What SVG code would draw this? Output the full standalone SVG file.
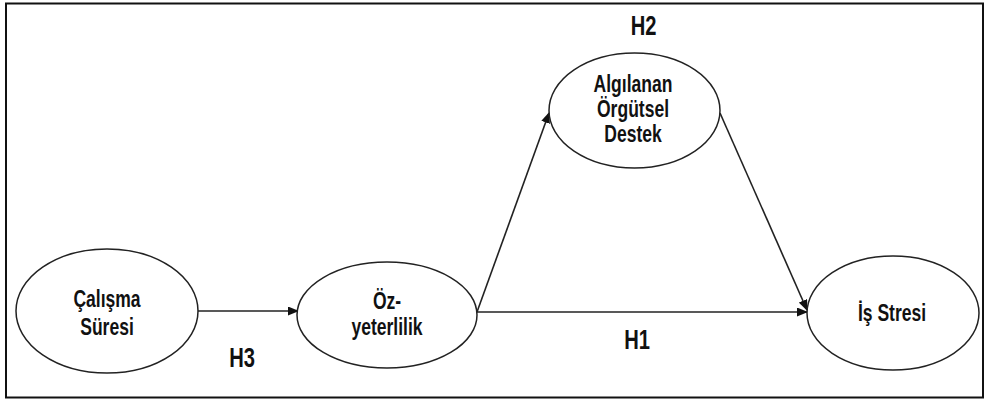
<svg xmlns="http://www.w3.org/2000/svg" width="986" height="405" viewBox="0 0 986 405">
<style>
.frame{fill:#fff;stroke:#111;stroke-width:2}
.node{fill:#fff;stroke:#222;stroke-width:1.5}
.edge{fill:none;stroke:#222;stroke-width:1.6}
.t{font-family:"Liberation Sans",Arial,sans-serif;font-weight:bold;font-size:24px;text-anchor:middle;fill:#111}
.h{font-family:"Liberation Sans",Arial,sans-serif;font-weight:bold;font-size:28px;text-anchor:middle;fill:#111}
</style>
<defs>
<marker id="arr" markerUnits="userSpaceOnUse" markerWidth="11" markerHeight="9" refX="10" refY="4.5" orient="auto">
<path d="M0,0 L11,4.5 L0,9 z" fill="#111"/>
</marker>
</defs>
<rect class="frame" x="6" y="3.5" width="977" height="394"/>
<g id="connectors">
<line class="edge" x1="198" y1="311" x2="298" y2="311" marker-end="url(#arr)"/>
<line class="edge" x1="477" y1="312" x2="549" y2="113" marker-end="url(#arr)"/>
<line class="edge" x1="477" y1="312" x2="807" y2="312" marker-end="url(#arr)"/>
<line class="edge" x1="720" y1="113" x2="807" y2="310" marker-end="url(#arr)"/>
</g>
<g id="calisma-suresi">
<ellipse class="node" cx="107" cy="311" rx="91" ry="62"/>
<text class="t" transform="translate(107,307) scale(0.73,1)">Çalışma</text>
<text class="t" transform="translate(107,335) scale(0.73,1)">Süresi</text>
</g>
<g id="oz-yeterlilik">
<ellipse class="node" cx="387" cy="315" rx="90" ry="53"/>
<text class="t" transform="translate(387,309) scale(0.73,1)">Öz-</text>
<text class="t" transform="translate(387,335) scale(0.73,1)">yeterlilik</text>
</g>
<g id="algilanan-orgutsel-destek">
<ellipse class="node" cx="634.5" cy="110.5" rx="85.5" ry="57.5"/>
<text class="t" transform="translate(633,92) scale(0.73,1)">Algılanan</text>
<text class="t" transform="translate(633,117) scale(0.73,1)">Örgütsel</text>
<text class="t" transform="translate(633,142) scale(0.73,1)">Destek</text>
</g>
<g id="is-stresi">
<ellipse class="node" cx="893" cy="313" rx="86" ry="57"/>
<text class="t" transform="translate(892,321) scale(0.73,1)">İş Stresi</text>
</g>
<g id="labels">
<text class="h" transform="translate(643.5,35) scale(0.72,1)">H2</text>
<text class="h" transform="translate(637,349) scale(0.72,1)">H1</text>
<text class="h" transform="translate(242,367) scale(0.72,1)">H3</text>
</g>
</svg>
